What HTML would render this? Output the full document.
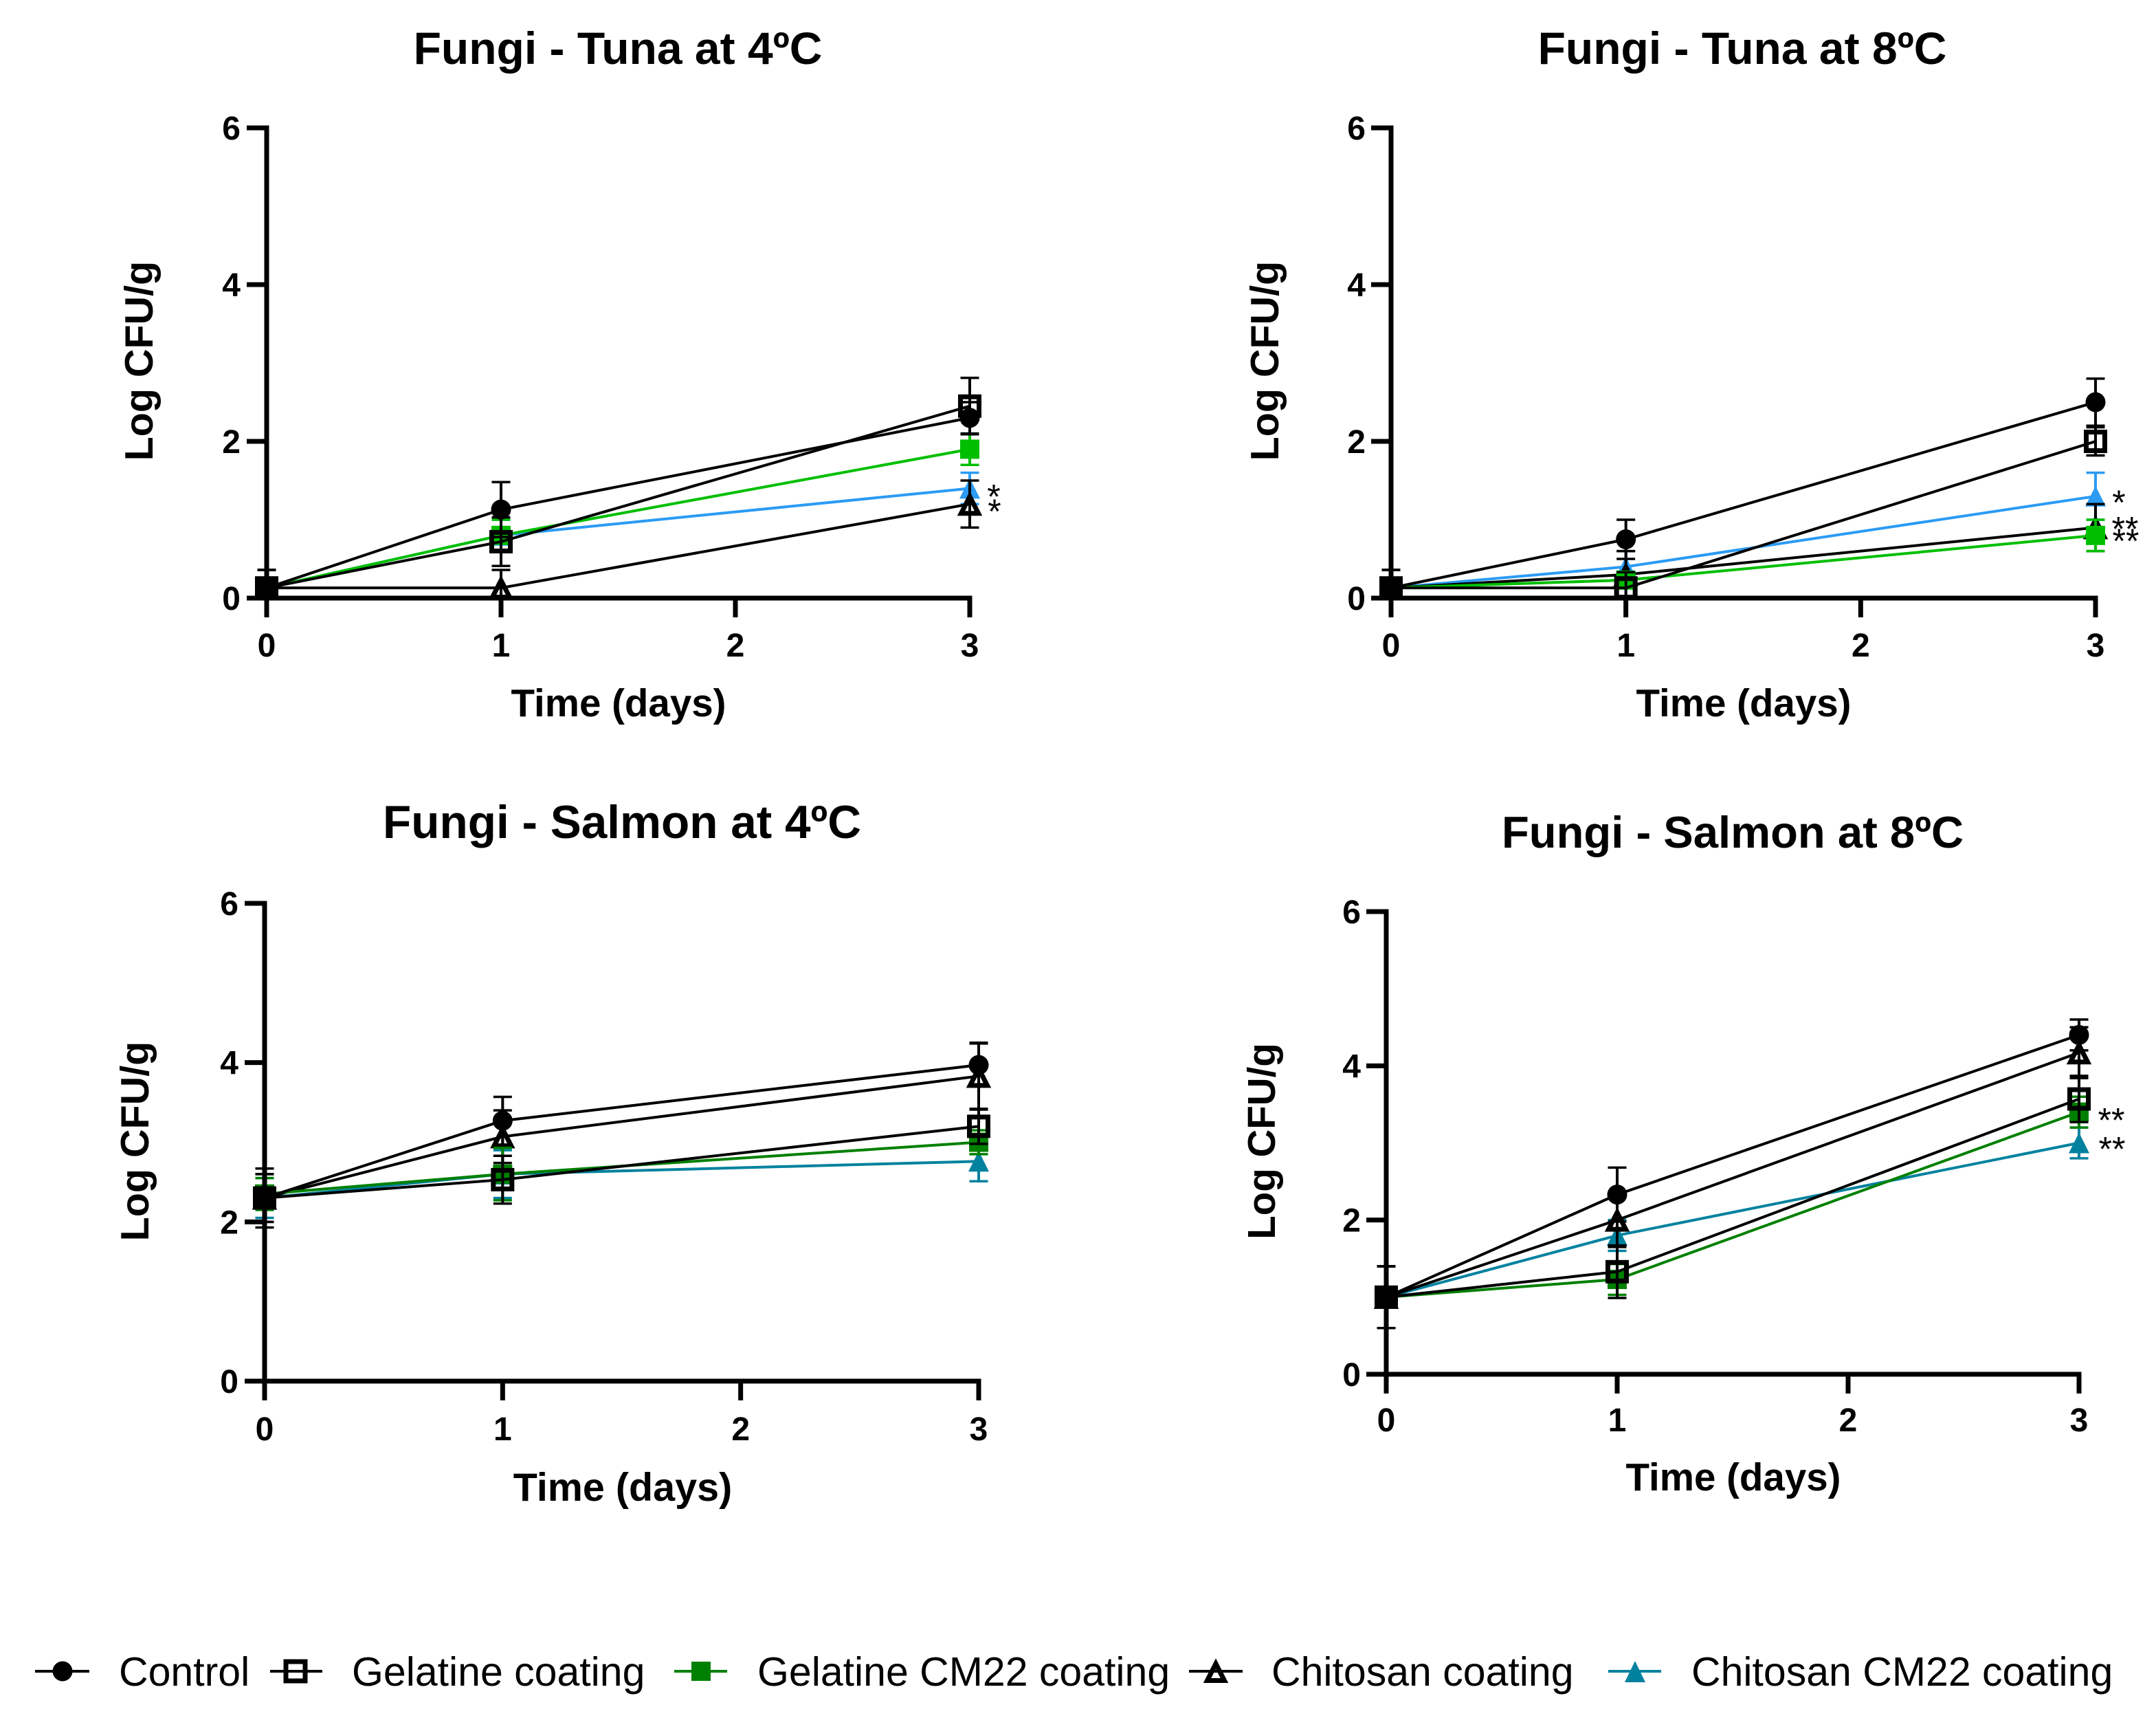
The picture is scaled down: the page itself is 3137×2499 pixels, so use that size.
<!DOCTYPE html>
<html lang="en">
<head>
<meta charset="utf-8">
<title>Fungi growth on tuna and salmon</title>
<style>
html,body{margin:0;padding:0;background:#fff}
svg{display:block}
text{font-family:"Liberation Sans",sans-serif;fill:#000}
.title{font-size:66px;font-weight:700;text-anchor:middle}
.axis-title{font-size:56.5px;font-weight:700;text-anchor:middle}
.tick{font-size:48px;font-weight:700}
.legend{font-size:59px}
.star{font-size:50px;text-anchor:middle}
</style>
</head>
<body>
<svg id="figure" width="3137" height="2499" viewBox="0 0 3137 2499" xmlns="http://www.w3.org/2000/svg">
  <rect width="3137" height="2499" fill="#fff"/>

  <text class="title" x="899" y="93">Fungi - Tuna at 4ºC</text>
  <text class="title" x="2535" y="93">Fungi - Tuna at 8ºC</text>
  <text class="title" x="905" y="1219" style="font-size:67.5px">Fungi - Salmon at 4ºC</text>
  <text class="title" x="2521" y="1233" style="font-size:65.2px">Fungi - Salmon at 8ºC</text>

  <text class="axis-title" x="900" y="1042">Time (days)</text>
  <text class="axis-title" x="2537" y="1042">Time (days)</text>
  <text class="axis-title" x="906" y="2183" style="font-size:57.5px">Time (days)</text>
  <text class="axis-title" x="2522" y="2168">Time (days)</text>

  <text class="axis-title" transform="translate(222 525) rotate(-90)" style="font-size:57.5px">Log CFU/g</text>
  <text class="axis-title" transform="translate(1860 525) rotate(-90)" style="font-size:57.5px">Log CFU/g</text>
  <text class="axis-title" transform="translate(216 1660) rotate(-90)" style="font-size:57.5px">Log CFU/g</text>
  <text class="axis-title" transform="translate(1855 1660) rotate(-90)">Log CFU/g</text>

  <g id="plots"></g>

  <g>
    <g>
      <line x1="51" y1="2431" x2="130" y2="2431" stroke="#000" stroke-width="4"/>
      <circle cx="91" cy="2431" r="14.5" fill="#000"/>
      <text class="legend" x="173" y="2452">Control</text>
    </g>
    <g>
      <line x1="393" y1="2431" x2="469" y2="2431" stroke="#000" stroke-width="4"/>
      <rect x="416" y="2417" width="28" height="28" fill="none" stroke="#000" stroke-width="7"/>
      <text class="legend" x="512" y="2452">Gelatine coating</text>
    </g>
    <g>
      <line x1="981" y1="2431" x2="1058" y2="2431" stroke="#008000" stroke-width="4"/>
      <rect x="1006" y="2417" width="28" height="28" fill="#008000"/>
      <text class="legend" x="1102" y="2452">Gelatine CM22 coating</text>
    </g>
    <g>
      <line x1="1730" y1="2431" x2="1808" y2="2431" stroke="#000" stroke-width="4"/>
      <polygon points="1769,2420 1781.5,2444.5 1756.5,2444.5" fill="none" stroke="#000" stroke-width="7"/>
      <text class="legend" x="1850" y="2452">Chitosan coating</text>
    </g>
    <g>
      <line x1="2340" y1="2431" x2="2417" y2="2431" stroke="#00829f" stroke-width="4"/>
      <polygon points="2379,2416 2394,2447 2364,2447" fill="#00829f"/>
      <text class="legend" x="2461" y="2452">Chitosan CM22 coating</text>
    </g>
  </g>
</svg>

<script>
// Shared axis data
const days = [0, 1, 3];
const xTickLabels = [0, 1, 2, 3];
const yTickLabels = [0, 2, 4, 6];

// Fungi - Tuna at 4C
const tuna4Control = [0.13, 1.13, 2.3];
const tuna4ControlErr = [0.23, 0.35, 0.2];
const tuna4Gelatine = [0.13, 0.72, 2.45];
const tuna4GelatineErr = [0.23, 0.31, 0.36];
const tuna4GelatineCM = [0.13, 0.8, 1.9];
const tuna4GelatineCMErr = [0.23, 0.2, 0.2];
const tuna4Chitosan = [0.13, 0.13, 1.2];
const tuna4ChitosanErr = [0.23, 0.23, 0.3];
const tuna4ChitosanCM = [0.13, 0.8, 1.4];
const tuna4ChitosanCMErr = [0.23, 0.2, 0.2];

// Fungi - Tuna at 8C
const tuna8Control = [0.13, 0.75, 2.5];
const tuna8ControlErr = [0.23, 0.25, 0.3];
const tuna8Gelatine = [0.13, 0.13, 2.0];
const tuna8GelatineErr = [0.23, 0.2, 0.18];
const tuna8GelatineCM = [0.13, 0.23, 0.8];
const tuna8GelatineCMErr = [0.23, 0.1, 0.2];
const tuna8Chitosan = [0.13, 0.3, 0.9];
const tuna8ChitosanErr = [0.23, 0.3, 0.3];
const tuna8ChitosanCM = [0.13, 0.4, 1.3];
const tuna8ChitosanCMErr = [0.23, 0.2, 0.3];

// Fungi - Salmon at 4C
const salmon4Control = [2.3, 3.27, 3.97];
const salmon4ControlErr = [0.37, 0.3, 0.27];
const salmon4Gelatine = [2.3, 2.53, 3.2];
const salmon4GelatineErr = [0.3, 0.3, 0.22];
const salmon4GelatineCM = [2.35, 2.6, 3.0];
const salmon4GelatineCMErr = [0.2, 0.33, 0.15];
const salmon4Chitosan = [2.3, 3.07, 3.83];
const salmon4ChitosanErr = [0.3, 0.33, 0.42];
const salmon4ChitosanCM = [2.3, 2.6, 2.76];
const salmon4ChitosanCMErr = [0.25, 0.3, 0.25];

// Fungi - Salmon at 8C
const salmon8Control = [1.0, 2.33, 4.4];
const salmon8ControlErr = [0.4, 0.35, 0.2];
const salmon8Gelatine = [1.0, 1.33, 3.57];
const salmon8GelatineErr = [0.4, 0.34, 0.3];
const salmon8GelatineCM = [1.0, 1.23, 3.4];
const salmon8GelatineCMErr = [0.4, 0.2, 0.2];
const salmon8Chitosan = [1.0, 2.0, 4.17];
const salmon8ChitosanErr = [0.4, 0.35, 0.33];
const salmon8ChitosanCM = [1.0, 1.8, 3.0];
const salmon8ChitosanCMErr = [0.4, 0.2, 0.2];

const NS = 'http://www.w3.org/2000/svg';

function make(parent, tag, attrs, name) {
  const el = document.createElementNS(NS, tag);
  for (const key in attrs) el.setAttribute(key, attrs[key]);
  
  
  parent.appendChild(el);
  return el;
}

function series(key, marker, color, values, errors) {
  return { key: key, marker: marker, color: color, values: values, errors: errors };
}

const panels = [
  {
    id: 'tuna-4c', left: 388, right: 1411, top: 186, bottom: 870, tickBase: 955, labelRight: 350,
    series: [
      series('chitosan-cm22', 'triangle-filled', '#2b9bf4', tuna4ChitosanCM, tuna4ChitosanCMErr),
      series('chitosan', 'triangle-open', '#000', tuna4Chitosan, tuna4ChitosanErr),
      series('gelatine-cm22', 'square-filled', '#00bf00', tuna4GelatineCM, tuna4GelatineCMErr),
      series('gelatine', 'square-open', '#000', tuna4Gelatine, tuna4GelatineErr),
      series('control', 'circle', '#000', tuna4Control, tuna4ControlErr)
    ],
    stars: [
      { label: '*', seriesIndex: 0, dx: 35, dy: 0 },
      { label: '*', seriesIndex: 1, dx: 36, dy: -1 }
    ]
  },
  {
    id: 'tuna-8c', left: 2024, right: 3049, top: 186, bottom: 870, tickBase: 955, labelRight: 1987,
    series: [
      series('chitosan-cm22', 'triangle-filled', '#2b9bf4', tuna8ChitosanCM, tuna8ChitosanCMErr),
      series('chitosan', 'triangle-open', '#000', tuna8Chitosan, tuna8ChitosanErr),
      series('gelatine-cm22', 'square-filled', '#00bf00', tuna8GelatineCM, tuna8GelatineCMErr),
      series('gelatine', 'square-open', '#000', tuna8Gelatine, tuna8GelatineErr),
      series('control', 'circle', '#000', tuna8Control, tuna8ControlErr)
    ],
    stars: [
      { label: '*', seriesIndex: 0, dx: 34, dy: -3 },
      { label: '**', seriesIndex: 1, dx: 43, dy: -10 },
      { label: '**', seriesIndex: 2, dx: 44, dy: -4 }
    ]
  },
  {
    id: 'salmon-4c', left: 385, right: 1424, top: 1314, bottom: 2009, tickBase: 2095, labelRight: 347,
    series: [
      series('chitosan-cm22', 'triangle-filled', '#00829f', salmon4ChitosanCM, salmon4ChitosanCMErr),
      series('chitosan', 'triangle-open', '#000', salmon4Chitosan, salmon4ChitosanErr),
      series('gelatine-cm22', 'square-filled', '#008000', salmon4GelatineCM, salmon4GelatineCMErr),
      series('gelatine', 'square-open', '#000', salmon4Gelatine, salmon4GelatineErr),
      series('control', 'circle', '#000', salmon4Control, salmon4ControlErr)
    ],
    stars: []
  },
  {
    id: 'salmon-8c', left: 2017, right: 3025, top: 1326, bottom: 1999, tickBase: 2082, labelRight: 1980,
    series: [
      series('chitosan-cm22', 'triangle-filled', '#00829f', salmon8ChitosanCM, salmon8ChitosanCMErr),
      series('chitosan', 'triangle-open', '#000', salmon8Chitosan, salmon8ChitosanErr),
      series('gelatine-cm22', 'square-filled', '#008000', salmon8GelatineCM, salmon8GelatineCMErr),
      series('gelatine', 'square-open', '#000', salmon8Gelatine, salmon8GelatineErr),
      series('control', 'circle', '#000', salmon8Control, salmon8ControlErr)
    ],
    stars: [
      { label: '**', seriesIndex: 2, dx: 47, dy: 0 },
      { label: '**', seriesIndex: 0, dx: 48, dy: -3 }
    ]
  }
];

function drawMarker(group, s, x, y, name) {
  if (s.marker === 'circle') {
    make(group, 'circle', { cx: x, cy: y, r: 14.5, fill: s.color }, name);
  } else if (s.marker === 'square-open') {
    make(group, 'rect', { x: x - 13.5, y: y - 13.5, width: 27, height: 27, fill: 'none', stroke: s.color, 'stroke-width': 7 }, name);
  } else if (s.marker === 'square-filled') {
    make(group, 'rect', { x: x - 14, y: y - 14, width: 28, height: 28, fill: s.color }, name);
  } else if (s.marker === 'triangle-open') {
    const pts = x + ',' + (y - 11) + ' ' + (x + 12.5) + ',' + (y + 13.5) + ' ' + (x - 12.5) + ',' + (y + 13.5);
    make(group, 'polygon', { points: pts, fill: 'none', stroke: s.color, 'stroke-width': 7 }, name);
  } else {
    const pts = x + ',' + (y - 15) + ' ' + (x + 15) + ',' + (y + 15) + ' ' + (x - 15) + ',' + (y + 15);
    make(group, 'polygon', { points: pts, fill: s.color }, name);
  }
}

function drawPanel(p) {
  const root = document.getElementById('plots');
  const g = make(root, 'g', {}, 'plot-' + p.id);
  const xScale = function (d) { return p.left + d * (p.right - p.left) / 3; };
  const yScale = function (v) { return p.bottom - v * (p.bottom - p.top) / 6; };
  const black = '#000';

  // Data series (drawn back to front); error bars stop at the x axis
  p.series.forEach(function (s) {
    const sg = make(g, 'g', {}, 'series-' + s.key);
    days.forEach(function (d, i) {
      const x = xScale(d);
      const lower = s.values[i] - s.errors[i];
      const hi = yScale(s.values[i] + s.errors[i]);
      const lo = yScale(Math.max(lower, 0));
      make(sg, 'line', { x1: x, x2: x, y1: hi, y2: lo, stroke: s.color, 'stroke-width': 4 }, 'error-bar-' + s.key);
      make(sg, 'line', { x1: x - 13.5, x2: x + 13.5, y1: hi, y2: hi, stroke: s.color, 'stroke-width': 3.5 }, 'error-cap-top-' + s.key);
      if (lower >= 0) {
        make(sg, 'line', { x1: x - 13.5, x2: x + 13.5, y1: lo, y2: lo, stroke: s.color, 'stroke-width': 3.5 }, 'error-cap-bottom-' + s.key);
      }
    });
    const pts = days.map(function (d, i) { return xScale(d) + ',' + yScale(s.values[i]); }).join(' ');
    make(sg, 'polyline', { points: pts, fill: 'none', stroke: s.color, 'stroke-width': 4 }, 'line-' + s.key);
    days.forEach(function (d, i) {
      drawMarker(sg, s, xScale(d), yScale(s.values[i]), 'point-' + s.key);
    });
  });

  // White strip under the axis hides marker overflow below zero
  make(g, 'rect', { x: p.left - 30, y: p.bottom, width: p.right - p.left + 60, height: 30, fill: '#fff' }, 'axis-mask');

  // Axes
  const axes = make(g, 'g', {}, 'axes');
  make(axes, 'line', { x1: p.left, x2: p.left, y1: p.top - 3.5, y2: p.bottom + 28, stroke: black, 'stroke-width': 7 }, 'y-axis-line');
  make(axes, 'line', { x1: p.left - 29, x2: p.right + 3.5, y1: p.bottom, y2: p.bottom, stroke: black, 'stroke-width': 7 }, 'x-axis-line');
  yTickLabels.forEach(function (t) {
    const y = yScale(t);
    make(axes, 'line', { x1: p.left - 29, x2: p.left, y1: y, y2: y, stroke: black, 'stroke-width': 7 }, 'y-tick');
    const label = make(axes, 'text', { class: 'tick', x: p.labelRight, y: y + 17, 'text-anchor': 'end' }, 'y-tick-label');
    label.textContent = t;
  });
  xTickLabels.forEach(function (t) {
    const x = xScale(t);
    make(axes, 'line', { x1: x, x2: x, y1: p.bottom, y2: p.bottom + 28, stroke: black, 'stroke-width': 7 }, 'x-tick');
    const label = make(axes, 'text', { class: 'tick', x: x, y: p.tickBase, 'text-anchor': 'middle' }, 'x-tick-label');
    label.textContent = t;
  });

  // Significance marks follow the day-3 value of their series
  p.stars.forEach(function (st) {
    const last = days.length - 1;
    const y = yScale(p.series[st.seriesIndex].values[last]) + st.dy + 29;
    const mark = make(g, 'text', { class: 'star', x: xScale(days[last]) + st.dx, y: y }, 'significance-mark');
    mark.textContent = st.label;
  });
}

panels.forEach(drawPanel);
</script>
</body>
</html>
